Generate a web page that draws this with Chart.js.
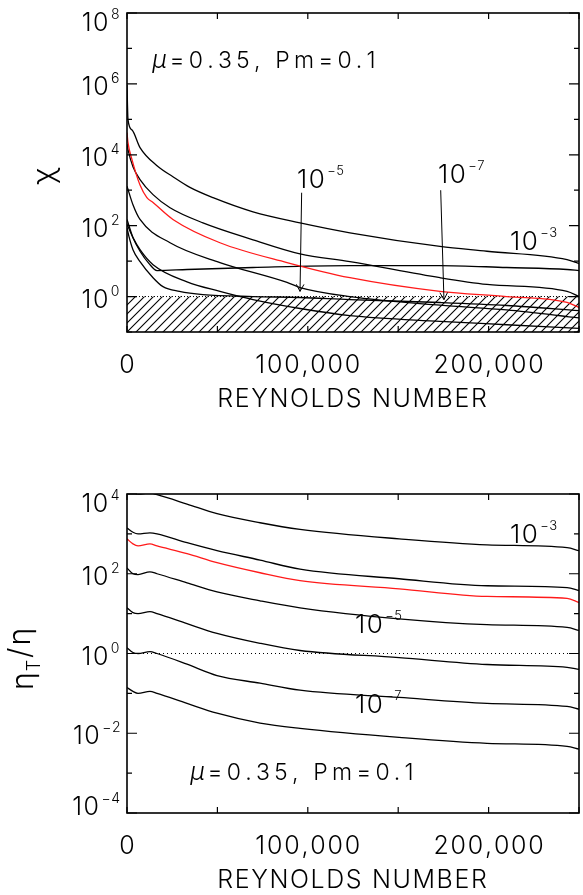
<!DOCTYPE html>
<html>
<head>
<meta charset="utf-8">
<script src="https://cdn.jsdelivr.net/npm/chart.js@4.4.1/dist/chart.umd.min.js"></script>
<style>
  html, body { margin: 0; padding: 0; background: #fff; }
  canvas { display: block; }
</style>
</head>
<body>
<canvas id="chiChart" width="583" height="447"></canvas>
<canvas id="etaChart" width="583" height="448"></canvas>
<script>
// Reynolds number axis (shared)
const reMax = 250000;
const reTicks = [0, 50000, 100000, 150000, 200000, 250000];
const reTickLabels = ['0', '', '100,000', '', '200,000', ''];

// top panel: chi, decade ticks with exponent labels ('' = unlabeled)
const chiTicks = [1e-1, 1, 1e1, 1e2, 1e3, 1e4, 1e5, 1e6, 1e7, 1e8];
const chiTickExp = ['', '0', '', '2', '', '4', '', '6', '', '8'];

const reA = [0, 550, 2800, 7200, 16600, 25400, 34800, 47600, 69700, 95700, 123300, 173100, 199100, 243400, 250000];
const chiA = [9.3e5, 9.8e4, 5.0e4, 1.6e4, 4.9e3, 2.4e3, 1.2e3, 615, 245, 120, 63, 26, 19, 11, 8.5];

const reB = [0, 550, 3300, 7200, 14400, 23800, 42000, 69700, 95700, 123300, 173100, 199100, 243400, 250000];
const chiB = [2.0e4, 1.4e4, 4.6e3, 2.0e3, 750, 320, 120, 40, 16, 9.7, 3.4, 2.2, 1.4, 1.0];

const reRed = [0, 550, 2800, 7200, 11000, 14400, 25400, 51400, 88500, 123300, 173100, 210000, 243400, 250000];
const chiRed = [4.2e4, 2.2e4, 7.2e3, 1.4e3, 620, 450, 150, 33, 9.1, 3.4, 1.4, 1.0, 0.68, 0.49];

const reD = [0, 3300, 7200, 23800, 51400, 88500, 95700, 123300, 173100, 210000, 250000];
const chiD = [1.3e3, 390, 150, 33, 9.1, 2.5, 1.8, 1.0, 0.57, 0.42, 0.25];

const reE = [0, 1100, 3300, 7200, 14400, 19900, 29000, 42000, 69700, 95700, 123300, 173100, 210000, 250000];
const chiE = [87, 49, 21, 9.7, 3.4, 1.9, 1.4, 1.14, 1.0, 0.94, 0.82, 0.68, 0.56, 0.40];

const reF = [0, 3300, 7200, 14400, 33200, 51400, 69700, 95700, 123300, 173100, 210000, 250000];
const chiF = [110, 46, 21, 7.9, 2.6, 1.4, 0.82, 0.46, 0.29, 0.20, 0.16, 0.126];

const reG = [0, 3300, 7200, 12200, 16600, 33200, 69700, 123300, 173100, 210000, 243400, 250000];
const chiG = [150, 46, 19, 8.5, 5.4, 5.8, 6.6, 7.5, 7.5, 6.6, 5.8, 5.4];

// bottom panel: eta_T / eta
const etaTicks = [1e-4, 1e-3, 1e-2, 1e-1, 1, 1e1, 1e2, 1e3, 1e4];
const etaTickExp = ['\u22124', '', '\u22122', '', '0', '', '2', '', '4'];

const reEta = [0, 3300, 6100, 12700, 16600, 33200, 49800, 73600, 95700, 150500, 199100, 243400, 250000];
const eta1 = [1.4e4, 1.1e4, 1.0e4, 1.06e4, 9.6e3, 5.6e3, 3.2e3, 1.9e3, 1.3e3, 750, 530, 450, 380];
const eta2 = [1.4e3, 1.1e3, 1.0e3, 1.06e3, 1.0e3, 600, 380, 220, 130, 75, 50, 45, 38];
const etaRed = [750, 560, 500, 560, 500, 320, 190, 106, 67, 42, 27, 24, 19];
const eta4 = [140, 100, 95, 112, 100, 59, 35, 21, 14, 7.4, 5.3, 4.5, 3.8];
const eta5 = [14, 10.6, 10, 11.2, 10, 5.6, 3.2, 1.8, 1.19, 0.79, 0.53, 0.45, 0.40];
const eta6 = [1.4, 1.06, 1.0, 1.12, 1.0, 0.54, 0.28, 0.18, 0.12, 0.079, 0.056, 0.047, 0.040];
const eta7 = [0.14, 0.112, 0.1, 0.112, 0.1, 0.056, 0.032, 0.018, 0.0133, 0.0079, 0.0056, 0.0047, 0.0040];

const thresholdRe = [0, 250000];

const FONT = "Inter, 'DejaVu Sans', sans-serif";
const W = 300;
const RED = '#ff1a1a';

function font(size, extra = '') {
  return `${extra} ${W} ${size}px ${FONT}`.trim();
}

function curve(xs, ys, color = '#000') {
  return {
    data: xs.map((x, i) => ({ x: x, y: ys[i] })),
    borderColor: color,
    borderWidth: 1.3,
    pointRadius: 0,
    fill: false,
    cubicInterpolationMode: 'monotone',
  };
}

function hatchPattern() {
  const tile = document.createElement('canvas');
  tile.width = 9;
  tile.height = 9;
  const c = tile.getContext('2d');
  c.strokeStyle = '#000';
  c.lineWidth = 1.1;
  c.beginPath();
  c.moveTo(-1, 10); c.lineTo(10, -1);
  c.moveTo(-1, 1); c.lineTo(1, -1);
  c.moveTo(8, 10); c.lineTo(10, 8);
  c.stroke();
  return c.createPattern(tile, 'repeat');
}

// draws chars one by one so the spacing can be widened like the original
function drawSpaced(ctx, text, x, y, spacing, align = 'left') {
  let total = 0;
  for (const ch of text) total += ctx.measureText(ch).width + spacing;
  total -= spacing;
  if (align === 'center') x -= total / 2;
  ctx.textAlign = 'left';
  for (const ch of text) {
    ctx.fillText(ch, x, y);
    x += ctx.measureText(ch).width + spacing;
  }
  return x;
}

function powerWidth(ctx, exp, big, small) {
  ctx.font = font(big);
  const w = ctx.measureText('10').width + 1.5;
  ctx.font = font(small);
  return w + 1 + ctx.measureText(exp).width;
}

function drawPower(ctx, exp, left, baseline, big, small, raise) {
  ctx.font = font(big);
  const end = drawSpaced(ctx, '10', left, baseline, 1.5);
  ctx.font = font(small);
  drawSpaced(ctx, exp, end + 1, baseline - raise, 0.5);
}

function drawArrow(ctx, x0, y0, x1, y1) {
  const ang = Math.atan2(y1 - y0, x1 - x0);
  const len = 8;
  ctx.beginPath();
  ctx.moveTo(x0, y0);
  ctx.lineTo(x1, y1);
  ctx.moveTo(x1 - len * Math.cos(ang - 0.5), y1 - len * Math.sin(ang - 0.5));
  ctx.lineTo(x1, y1);
  ctx.lineTo(x1 - len * Math.cos(ang + 0.5), y1 - len * Math.sin(ang + 0.5));
  ctx.stroke();
}

// frame, inward ticks, tick labels, titles and notes
function makeDecor(panel) {
  return {
    id: 'decor',
    afterDraw(chart) {
      const { ctx, chartArea: a, scales: { x, y } } = chart;
      ctx.save();
      ctx.fillStyle = '#000';
      ctx.strokeStyle = '#000';
      ctx.textBaseline = 'alphabetic';

      ctx.lineWidth = 1.2;
      ctx.beginPath();
      reTicks.forEach(v => {
        const px = x.getPixelForValue(v);
        ctx.moveTo(px, a.bottom); ctx.lineTo(px, a.bottom - 6);
        ctx.moveTo(px, a.top); ctx.lineTo(px, a.top + 6);
      });
      panel.yTicks.forEach((v, i) => {
        const py = y.getPixelForValue(v);
        const len = panel.yExp[i] ? 10 : 5;
        ctx.moveTo(a.left, py); ctx.lineTo(a.left + len, py);
        ctx.moveTo(a.right, py); ctx.lineTo(a.right - len, py);
      });
      ctx.stroke();

      ctx.lineWidth = 1.6;
      ctx.strokeRect(a.left, a.top, a.right - a.left, a.bottom - a.top);

      // x tick labels and title
      ctx.font = font(25);
      reTicks.forEach((v, i) => {
        if (reTickLabels[i]) drawSpaced(ctx, reTickLabels[i], x.getPixelForValue(v), a.bottom + 41, 1.8, 'center');
      });
      drawSpaced(ctx, 'REYNOLDS NUMBER', (a.left + a.right) / 2 - 1, a.bottom + 75, 1.6, 'center');

      // y tick labels 10^n, kept inside the frame height
      panel.yTicks.forEach((v, i) => {
        const exp = panel.yExp[i];
        if (!exp) return;
        let base = y.getPixelForValue(v) + 11;
        base = Math.max(base, a.top + 18);
        base = Math.min(base, a.bottom + 2);
        const w = powerWidth(ctx, exp, 25, 14);
        drawPower(ctx, exp, a.left - 9 - w, base, 25, 14, 12);
      });

      panel.yTitle(ctx, a);

      // curve labels
      panel.notes.forEach(n => {
        drawPower(ctx, n.exp, x.getPixelForValue(n.re), y.getPixelForValue(n.val), 26, 13, 13);
      });

      ctx.lineWidth = 1;
      panel.arrows.forEach(ar => {
        drawArrow(ctx, x.getPixelForValue(ar.from[0]), y.getPixelForValue(ar.from[1]),
          x.getPixelForValue(ar.to[0]), y.getPixelForValue(ar.to[1]));
      });

      // parameter text
      const px = x.getPixelForValue(panel.param.re);
      const py = y.getPixelForValue(panel.param.val);
      ctx.textAlign = 'left';
      ctx.font = font(25, 'italic');
      ctx.fillText('\u03bc', px, py);
      const mw = ctx.measureText('\u03bc').width;
      ctx.font = font(23);
      drawSpaced(ctx, '=0.35, Pm=0.1', px + mw + 3, py, 4.2);

      ctx.restore();
    },
  };
}

function makeChart(canvasId, datasets, yMin, yMax, padding, panel) {
  return new Chart(document.getElementById(canvasId), {
    type: 'line',
    data: { datasets: datasets },
    options: {
      responsive: false,
      animation: false,
      devicePixelRatio: 1,
      layout: { padding: padding },
      plugins: { legend: { display: false }, tooltip: { enabled: false } },
      scales: {
        x: { type: 'linear', min: 0, max: reMax, display: false },
        y: { type: 'logarithmic', min: yMin, max: yMax, display: false },
      },
    },
    plugins: [makeDecor(panel)],
  });
}

// top panel
const chiThreshold = {
  data: thresholdRe.map(x => ({ x: x, y: 1 })),
  borderColor: '#000',
  borderWidth: 1,
  borderDash: [1, 2],
  pointRadius: 0,
  fill: 'start',
  backgroundColor: hatchPattern(),
};

makeChart('chiChart', [
  curve(reRed, chiRed, RED),
  curve(reA, chiA),
  curve(reB, chiB),
  curve(reD, chiD),
  curve(reE, chiE),
  curve(reF, chiF),
  curve(reG, chiG),
  chiThreshold,
], 0.1, 1e8, { left: 127, top: 13, right: 4, bottom: 115 }, {
  yTicks: chiTicks,
  yExp: chiTickExp,
  yTitle(ctx, a) {
    ctx.save();
    ctx.translate(54, 176);
    ctx.rotate(-Math.PI / 2);
    ctx.font = font(30);
    ctx.textAlign = 'center';
    ctx.fillText('\u03c7', 0, 0);
    ctx.restore();
  },
  notes: [
    { exp: '\u22125', re: 94000, val: 1.18e3 },
    { exp: '\u22127', re: 172000, val: 1.6e3 },
    { exp: '\u22123', re: 211800, val: 21 },
  ],
  arrows: [
    { from: [96600, 850], to: [95700, 1.4] },
    { from: [173500, 1.0e3], to: [175300, 0.82] },
  ],
  param: { re: 13800, val: 2.8e6 },
});

// bottom panel
const etaUnity = {
  data: thresholdRe.map(x => ({ x: x, y: 1 })),
  borderColor: '#000',
  borderWidth: 1,
  borderDash: [1, 3],
  pointRadius: 0,
  fill: false,
};

makeChart('etaChart', [
  curve(reEta, etaRed, RED),
  curve(reEta, eta1),
  curve(reEta, eta2),
  curve(reEta, eta4),
  curve(reEta, eta5),
  curve(reEta, eta6),
  curve(reEta, eta7),
  etaUnity,
], 1e-4, 1e4, { left: 127, top: 47, right: 4, bottom: 82 }, {
  yTicks: etaTicks,
  yExp: etaTickExp,
  yTitle(ctx, a) {
    ctx.save();
    ctx.translate(33, 243);
    ctx.rotate(-Math.PI / 2);
    ctx.textAlign = 'left';
    ctx.font = font(30);
    ctx.fillText('\u03b7', 0, 0);
    let w = ctx.measureText('\u03b7').width + 1;
    ctx.font = font(18);
    ctx.fillText('T', w, 7);
    w += ctx.measureText('T').width + 2;
    ctx.font = font(30);
    ctx.fillText('/', w, -3);
    w += ctx.measureText('/').width + 2;
    ctx.fillText('\u03b7', w, -3);
    ctx.restore();
  },
  notes: [
    { exp: '\u22123', re: 211800, val: 600 },
    { exp: '\u22125', re: 126100, val: 3.2 },
    { exp: '\u22127', re: 126100, val: 0.032 },
  ],
  arrows: [],
  param: { re: 34800, val: 6.7e-4 },
});
</script>
</body>
</html>
